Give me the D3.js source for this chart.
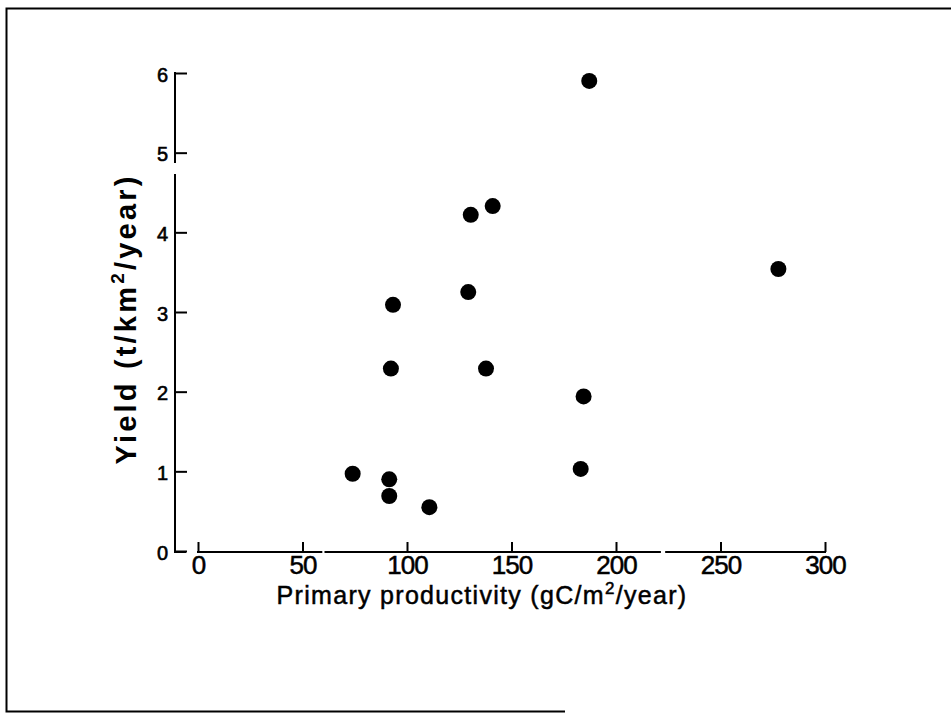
<!DOCTYPE html>
<html>
<head>
<meta charset="utf-8">
<script src="https://cdn.jsdelivr.net/npm/d3@7"></script>
<style>
  html, body { margin: 0; padding: 0; background: #fff; }
  svg { display: block; }
</style>
</head>
<body>
<svg id="chart" width="951" height="714"></svg>
<script>
// Data
const productivity = [74, 91.5, 91.5, 110.7, 93.3, 92.3, 129.3, 130.5, 141, 137.8, 187.2, 184.5, 183.1, 277.7];
const yieldValues  = [0.97, 0.90, 0.69, 0.55, 3.09, 2.29, 3.25, 4.22, 4.33, 2.29, 5.90, 1.94, 1.03, 3.54];
const xTicks = [0, 50, 100, 150, 200, 250, 300];
const yTicks = [0, 1, 2, 3, 4, 5, 6];
const xLabel = "Primary productivity (gC/m";
const xLabelTail = "/year)";
const yLabel = "Yield (t/km";
const yLabelTail = "/year)";

const svg = d3.select("#chart");
const ink = "#000";
const font = "'Liberation Sans', Arial, sans-serif";

// Frame (scanned page border)
svg.append("path")
  .attr("d", "M951,8.5 L6.5,8.5 L6.5,711.5 L565,711.5")
  .attr("fill", "none").attr("stroke", ink).attr("stroke-width", 2);

const x = d3.scaleLinear().domain([0, 300]).range([198, 825]);
const y = d3.scaleLinear().domain([0, 6]).range([551, 73]);

const axisX0 = 552, axisY0 = 175;

// Y axis
const gy = svg.append("g").attr("transform", `translate(${axisY0},0)`)
  .call(d3.axisLeft(y).tickValues(yTicks).tickSize(-12).tickPadding(7).tickFormat(d3.format("d")));
gy.select(".domain").remove();
gy.selectAll(".tick line").attr("stroke", ink).attr("stroke-width", 2);
gy.selectAll(".tick text").attr("fill", ink).attr("dy", "0.4em")
  .attr("stroke", ink).attr("stroke-width", 0.6)
  .style("font-family", font).style("font-size", "20px");
// y-axis line (with the small break of the original)
[[6, 4.87], [4.72, 0]].forEach(([a, b]) => {
  svg.append("line").attr("x1", axisY0).attr("x2", axisY0)
    .attr("y1", y(a) - 1).attr("y2", b === 0 ? axisX0 + 1 : y(b))
    .attr("stroke", ink).attr("stroke-width", 2);
});

// X axis
const gx = svg.append("g").attr("transform", `translate(0,${axisX0})`)
  .call(d3.axisBottom(x).tickValues(xTicks).tickSize(-10).tickPadding(4).tickFormat(d3.format("d")));
gx.select(".domain").remove();
gx.selectAll(".tick line").attr("stroke", ink).attr("stroke-width", 2);
gx.selectAll(".tick text").attr("fill", ink)
  .attr("stroke", ink).attr("stroke-width", 0.5)
  .style("font-family", font).style("font-size", "26px").style("letter-spacing", "-1px");
// x-axis line segments (breaks as in the scan)
[[0, 59], [61, 221], [224, 300]].forEach(([a, b]) => {
  svg.append("line").attr("x1", x(a) - 1).attr("x2", x(b) + 1)
    .attr("y1", axisX0).attr("y2", axisX0)
    .attr("stroke", ink).attr("stroke-width", 2);
});
// small stub at the y-axis origin
svg.append("line").attr("x1", axisY0).attr("x2", axisY0 + 11)
  .attr("y1", axisX0).attr("y2", axisX0).attr("stroke", ink).attr("stroke-width", 2);

// Points
svg.append("g").selectAll("circle")
  .data(productivity.map((p, i) => ({ p, v: yieldValues[i] })))
  .join("circle")
  .attr("cx", d => x(d.p)).attr("cy", d => y(d.v)).attr("r", 8).attr("fill", ink);

// X label
const xl = svg.append("text")
  .attr("x", 482).attr("y", 604).attr("text-anchor", "middle")
  .attr("fill", ink).attr("stroke", ink).attr("stroke-width", 0.5)
  .style("font-family", font).style("font-size", "25px").style("letter-spacing", "1.3px");
xl.append("tspan").text(xLabel);
xl.append("tspan").attr("dy", -10).style("font-size", "17px").text("2");
xl.append("tspan").attr("dy", 10).text(xLabelTail);

// Y label
const yl = svg.append("text")
  .attr("transform", "translate(136,319) rotate(-90)")
  .attr("text-anchor", "middle").attr("fill", ink)
  .style("font-family", font).style("font-size", "29px")
  .style("font-weight", "bold").style("letter-spacing", "3.2px");
yl.append("tspan").text(yLabel);
yl.append("tspan").attr("dy", -12).style("font-size", "19px").text("2");
yl.append("tspan").attr("dy", 12).text(yLabelTail);
</script>
</body>
</html>
